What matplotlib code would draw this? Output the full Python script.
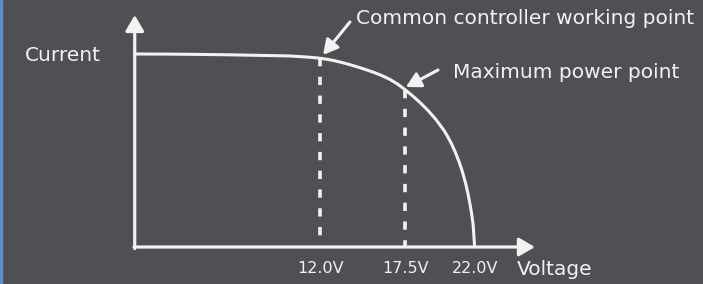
import matplotlib
matplotlib.use("Agg")
import matplotlib.pyplot as plt

# I-V curve (voltage in V, current normalised to Isc)
voltage = [0, 2, 4, 6, 8, 10, 11, 11.5, 12, 12.5, 13, 13.5, 14, 14.5, 15,
           15.5, 16, 16.5, 17, 17.5, 18, 18.5, 19, 19.5, 20, 20.25, 20.5,
           20.75, 21, 21.2, 21.4, 21.55, 21.7, 21.8, 21.9, 22.0]
current = [1.000, 0.9995, 0.998, 0.996, 0.993, 0.990, 0.985, 0.982, 0.978,
           0.972, 0.964, 0.954, 0.943, 0.931, 0.918, 0.904, 0.888, 0.869,
           0.845, 0.815, 0.782, 0.746, 0.706, 0.660, 0.606, 0.573, 0.535,
           0.491, 0.440, 0.392, 0.335, 0.283, 0.222, 0.175, 0.118, 0.0]

marker_v = [12.0, 17.5]
marker_i = [0.978, 0.815]
tick_v = [12.0, 17.5, 22.0]
tick_labels = ["12.0V", "17.5V", "22.0V"]
labels = ["Common controller working point", "Maximum power point"]

BG = "#4e5053"
FG = "#f2f2f2"
plt.rcParams["font.family"] = ["DejaVu Sans"]

fig = plt.figure(figsize=(7.03, 2.84), dpi=100, facecolor=BG)
ax = fig.add_axes([0, 0, 1, 1])
ax.set_facecolor(BG)
ax.set_xlim(-8.72, 36.78)
ax.set_ylim(-0.1917, 1.2798)
ax.axis("off")

# blue strip on the left edge
fig.patches.append(plt.Rectangle((0, 0), 0.003, 1, transform=fig.transFigure,
                                 color="#5b8fd2", zorder=5))

# axes with arrow heads
head = dict(arrowstyle="-|>,head_length=0.6,head_width=0.35", color=FG,
            lw=2.3, shrinkA=0, shrinkB=0, mutation_scale=16)
ax.annotate("", xy=(0, 1.202), xytext=(0, -0.008), arrowprops=head)
ax.annotate("", xy=(25.9, 0), xytext=(-0.05, 0), arrowprops=head)

# curve
ax.plot(voltage, current, color=FG, lw=2.2, solid_capstyle="round",
        solid_joinstyle="round", zorder=4)

# dashed drop lines, drawn from the curve down so a dash touches the curve
for v, i in zip(marker_v, marker_i):
    ax.plot([v, v], [i, 0.0], color=FG, lw=2.6, dashes=(2.3, 2.9), zorder=3)

# tick labels and axis names
for v, t in zip(tick_v, tick_labels):
    ax.text(v, -0.112, t, color=FG, fontsize=11.5, ha="center", va="center")
ax.text(24.75, -0.115, "Voltage", color=FG, fontsize=14.5, ha="left", va="center")
ax.text(-7.1, 0.99, "Current", color=FG, fontsize=14.5, ha="left", va="center")

# annotations
arrow = dict(arrowstyle="-|>,head_length=0.55,head_width=0.3", color=FG,
             lw=2.2, shrinkA=0, shrinkB=0, mutation_scale=16)
ax.annotate("", xy=(12.19, 0.995), xytext=(13.93, 1.166), arrowprops=arrow)
ax.annotate("", xy=(17.55, 0.829), xytext=(19.63, 0.917), arrowprops=arrow)
ax.text(14.3, 1.182, labels[0], color=FG, fontsize=14.5, ha="left", va="center")
ax.text(20.6, 0.905, labels[1], color=FG, fontsize=14.5, ha="left", va="center")

fig.savefig("out.png", dpi=100, facecolor=BG)
